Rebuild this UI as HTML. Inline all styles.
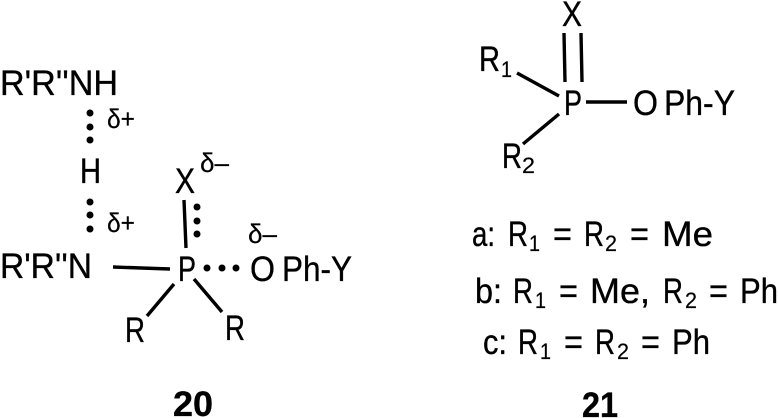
<!DOCTYPE html>
<html>
<head>
<meta charset="utf-8">
<style>
html,body{margin:0;padding:0;background:#fff;width:778px;height:418px;overflow:hidden}
svg{display:block}
text{font-family:"Liberation Sans",sans-serif;font-size:35px;fill:#000;stroke:#000;stroke-width:.35px}
.s{font-size:22px;stroke-width:.2px}
.d{font-size:27px;stroke-width:.2px}
.b{font-weight:bold;font-size:35px}
line{stroke:#000;stroke-width:3.4}
circle{fill:#000}
</style>
</head>
<body>
<svg width="778" height="418" viewBox="0 0 778 418" xmlns="http://www.w3.org/2000/svg">
<text x="0" y="95" textLength="118" lengthAdjust="spacingAndGlyphs">R'R''NH</text>
<text x="107" y="128" class="d" textLength="28" lengthAdjust="spacingAndGlyphs">δ+</text>
<text x="80" y="183" textLength="21" lengthAdjust="spacingAndGlyphs">H</text>
<text x="107" y="232" class="d" textLength="28" lengthAdjust="spacingAndGlyphs">δ+</text>
<text x="0" y="278" textLength="92" lengthAdjust="spacingAndGlyphs">R'R''N</text>
<text x="178" y="281" textLength="18" lengthAdjust="spacingAndGlyphs">P</text>
<text x="250" y="281" textLength="25" lengthAdjust="spacingAndGlyphs">O</text>
<text x="282" y="281" textLength="70" lengthAdjust="spacingAndGlyphs">Ph-Y</text>
<text x="248" y="243" class="d" textLength="29" lengthAdjust="spacingAndGlyphs">δ–</text>
<text x="175" y="193" textLength="20" lengthAdjust="spacingAndGlyphs">X</text>
<text x="200" y="172" class="d" textLength="29" lengthAdjust="spacingAndGlyphs">δ–</text>
<text x="125" y="342" textLength="20" lengthAdjust="spacingAndGlyphs">R</text>
<text x="225" y="340" textLength="20" lengthAdjust="spacingAndGlyphs">R</text>
<text x="173" y="416" class="b" textLength="40" lengthAdjust="spacingAndGlyphs">20</text>

<text x="562" y="26" textLength="20" lengthAdjust="spacingAndGlyphs">X</text>
<text x="479" y="71" textLength="21" lengthAdjust="spacingAndGlyphs">R</text>
<text x="501" y="77" class="s" textLength="11" lengthAdjust="spacingAndGlyphs">1</text>
<text x="564" y="115" textLength="18" lengthAdjust="spacingAndGlyphs">P</text>
<text x="633" y="115" textLength="25" lengthAdjust="spacingAndGlyphs">O</text>
<text x="664" y="115" textLength="71" lengthAdjust="spacingAndGlyphs">Ph-Y</text>
<text x="502" y="168" textLength="20" lengthAdjust="spacingAndGlyphs">R</text>
<text x="522" y="173" class="s" textLength="13" lengthAdjust="spacingAndGlyphs">2</text>

<text x="472" y="246" textLength="23" lengthAdjust="spacingAndGlyphs">a:</text>
<text x="508" y="246" textLength="20" lengthAdjust="spacingAndGlyphs">R</text>
<text x="529" y="251" class="s" textLength="11" lengthAdjust="spacingAndGlyphs">1</text>
<text x="553" y="246" textLength="19" lengthAdjust="spacingAndGlyphs">=</text>
<text x="584" y="246" textLength="20" lengthAdjust="spacingAndGlyphs">R</text>
<text x="605" y="251" class="s" textLength="12" lengthAdjust="spacingAndGlyphs">2</text>
<text x="630" y="246" textLength="19" lengthAdjust="spacingAndGlyphs">=</text>
<text x="662" y="246" textLength="51" lengthAdjust="spacingAndGlyphs">Me</text>

<text x="475" y="303" textLength="27" lengthAdjust="spacingAndGlyphs">b:</text>
<text x="513" y="303" textLength="20" lengthAdjust="spacingAndGlyphs">R</text>
<text x="535" y="308" class="s" textLength="11" lengthAdjust="spacingAndGlyphs">1</text>
<text x="559" y="303" textLength="19" lengthAdjust="spacingAndGlyphs">=</text>
<text x="590" y="303" textLength="60" lengthAdjust="spacingAndGlyphs">Me,</text>
<text x="663" y="303" textLength="20" lengthAdjust="spacingAndGlyphs">R</text>
<text x="685" y="308" class="s" textLength="12" lengthAdjust="spacingAndGlyphs">2</text>
<text x="709" y="303" textLength="19" lengthAdjust="spacingAndGlyphs">=</text>
<text x="740" y="303" textLength="38" lengthAdjust="spacingAndGlyphs">Ph</text>

<text x="483" y="354" textLength="24" lengthAdjust="spacingAndGlyphs">c:</text>
<text x="518" y="354" textLength="20" lengthAdjust="spacingAndGlyphs">R</text>
<text x="540" y="359" class="s" textLength="11" lengthAdjust="spacingAndGlyphs">1</text>
<text x="564" y="354" textLength="19" lengthAdjust="spacingAndGlyphs">=</text>
<text x="595" y="354" textLength="20" lengthAdjust="spacingAndGlyphs">R</text>
<text x="617" y="359" class="s" textLength="12" lengthAdjust="spacingAndGlyphs">2</text>
<text x="641" y="354" textLength="19" lengthAdjust="spacingAndGlyphs">=</text>
<text x="672" y="354" textLength="38" lengthAdjust="spacingAndGlyphs">Ph</text>

<text x="582" y="417" class="b" textLength="36" lengthAdjust="spacingAndGlyphs">21</text>

<line x1="113" y1="267" x2="170" y2="269"/>
<line x1="184" y1="200" x2="186" y2="248"/>
<line x1="174" y1="284" x2="147" y2="316"/>
<line x1="194" y1="279" x2="222" y2="312"/>
<line x1="564" y1="33" x2="565" y2="82"/>
<line x1="581" y1="33" x2="582" y2="82"/>
<line x1="517" y1="73" x2="559" y2="96"/>
<line x1="586" y1="102" x2="627" y2="102"/>
<line x1="559" y1="114" x2="523" y2="144"/>

<circle cx="90" cy="113" r="3.5"/>
<circle cx="90" cy="127" r="3.5"/>
<circle cx="90" cy="140" r="3.5"/>
<circle cx="90" cy="202" r="3.5"/>
<circle cx="90" cy="215" r="3.5"/>
<circle cx="90" cy="229" r="3.5"/>
<circle cx="197" cy="207" r="3.5"/>
<circle cx="197" cy="221" r="3.5"/>
<circle cx="197" cy="234" r="3.5"/>
<circle cx="207" cy="268" r="3.5"/>
<circle cx="222" cy="268" r="3.5"/>
<circle cx="236" cy="268" r="3.5"/>
</svg>
</body>
</html>
